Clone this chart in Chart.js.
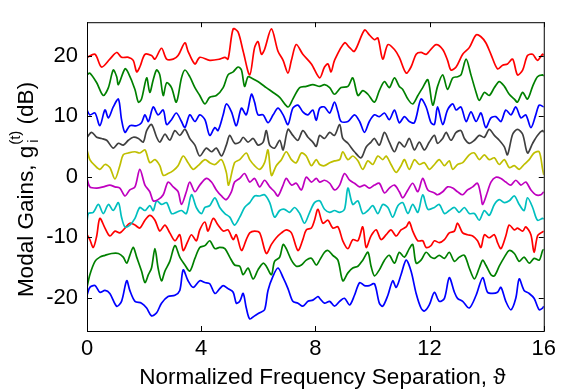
<!DOCTYPE html>
<html>
<head>
<meta charset="utf-8">
<script src="https://cdn.jsdelivr.net/npm/chart.js@4.4.1/dist/chart.umd.min.js"></script>
<style>
  html, body { margin: 0; padding: 0; background: #fff; }
  canvas { display: block; }
</style>
</head>
<body>
<canvas id="gains" width="561" height="390"></canvas>
<script>
// values: [theta, gain dB]
const xTicks = [0, 4, 8, 12, 16];
const yTicks = [-20, -10, 0, 10, 20];

const red1 = [[0,19.7],[0.28,20.2],[0.51,18.1],[0.8,19.4],[1.04,20.5],[1.21,19.7],[1.45,19.7],[1.62,19.2],[1.74,17.3],[1.85,18.1],[2.03,20.2],[2.26,20.0],[2.38,19.4],[2.61,21.2],[2.79,19.4],[3.02,19.4],[3.19,20.0],[3.43,22.1],[3.54,20.7],[3.78,18.6],[3.95,19.7],[4.3,19.2],[4.65,19.4],[4.83,19.7],[4.94,19.4],[5.12,24.4],[5.29,23.9],[5.47,20.7],[5.7,16.8],[5.87,21.3],[5.99,22.3],[6.11,20.2],[6.22,21.0],[6.46,24.4],[6.69,20.7],[6.87,19.2],[7.04,17.1],[7.16,19.2],[7.33,21.8],[7.56,20.2],[7.86,18.6],[8.15,16.3],[8.32,18.1],[8.44,18.6],[8.55,17.3],[8.67,19.2],[9.02,22.1],[9.2,21.3],[9.37,20.7],[9.72,24.2],[9.89,23.4],[10.07,22.6],[10.19,22.9],[10.36,19.4],[10.54,21.8],[10.77,21.0],[10.94,19.7],[11.18,17.1],[11.35,18.1],[11.53,20.2],[11.7,20.5],[11.88,20.2],[11.99,20.7],[12.23,21.8],[12.46,21.0],[12.63,19.2],[12.75,17.6],[12.93,18.1],[13.16,20.2],[13.39,21.3],[13.63,23.4],[13.8,23.1],[13.97,22.1],[14.15,20.2],[14.38,17.8],[14.56,18.4],[14.73,18.6],[14.91,19.4],[15.08,16.8],[15.26,17.6],[15.43,20.0],[15.61,20.2],[15.78,19.2],[15.96,20.2],[16,20.0]];

const green1 = [[0,16.8],[0.1,17.1],[0.34,15.5],[0.57,13.4],[0.75,14.7],[0.92,17.6],[1.04,16.5],[1.1,15.2],[1.33,17.8],[1.45,17.1],[1.68,14.4],[1.8,12.3],[1.91,12.8],[2.09,16.3],[2.2,13.9],[2.32,16.0],[2.44,17.6],[2.55,16.8],[2.67,13.4],[2.79,15.5],[2.96,14.7],[3.13,12.3],[3.31,16.3],[3.43,17.6],[3.6,16.5],[3.78,14.7],[3.95,13.4],[4.13,12.0],[4.3,13.1],[4.53,13.4],[4.77,14.7],[4.94,16.8],[5.12,17.3],[5.29,18.1],[5.41,17.6],[5.52,14.9],[5.64,16.5],[5.76,16.3],[5.87,16.0],[6.05,15.5],[6.28,14.7],[6.52,13.9],[6.75,13.1],[7.04,11.5],[7.21,12.8],[7.45,14.7],[7.68,14.9],[7.91,15.2],[8.15,14.9],[8.32,15.2],[8.5,14.7],[8.67,13.6],[8.9,14.7],[9.14,14.9],[9.31,16.3],[9.49,13.4],[9.66,14.2],[9.84,13.6],[10.07,12.3],[10.24,14.2],[10.42,15.7],[10.59,14.7],[10.77,16.3],[10.94,14.9],[11.06,14.4],[11.24,12.8],[11.41,12.0],[11.59,13.4],[11.76,14.7],[11.94,16.0],[12.11,11.8],[12.28,14.9],[12.46,16.8],[12.63,14.4],[12.81,16.3],[12.98,16.5],[13.1,16.8],[13.28,19.4],[13.45,16.8],[13.63,13.9],[13.74,12.6],[13.92,13.9],[14.09,13.4],[14.27,14.7],[14.44,15.7],[14.62,14.9],[14.79,13.6],[14.97,12.8],[15.08,12.3],[15.26,13.9],[15.43,12.8],[15.61,14.9],[15.78,16.5],[15.96,16.8],[16,16.6]];

const blue1 = [[0,11.0],[0.1,10.2],[0.28,10.5],[0.45,8.4],[0.63,11.0],[0.75,9.7],[0.92,11.5],[1.1,12.8],[1.21,9.4],[1.33,7.3],[1.5,8.4],[1.74,8.4],[1.91,8.9],[2.03,10.2],[2.15,9.1],[2.32,11.5],[2.49,10.2],[2.67,11.0],[2.79,8.6],[2.96,9.4],[3.13,10.5],[3.31,9.1],[3.43,8.1],[3.6,10.2],[3.78,9.1],[3.95,10.2],[4.13,9.4],[4.3,6.8],[4.48,8.1],[4.59,7.6],[4.77,10.2],[4.88,12.0],[5.06,10.7],[5.23,8.4],[5.41,11.3],[5.58,10.2],[5.76,13.6],[5.87,12.3],[5.99,10.2],[6.17,10.2],[6.34,8.9],[6.52,10.2],[6.69,11.3],[6.87,10.2],[7.04,8.6],[7.21,11.3],[7.39,11.8],[7.56,10.7],[7.74,10.2],[7.91,11.0],[8.03,9.3],[8.15,11.3],[8.32,11.5],[8.5,10.5],[8.67,12.3],[8.79,10.7],[8.9,9.1],[9.14,9.1],[9.37,10.2],[9.55,9.1],[9.72,7.3],[9.89,9.1],[10.07,10.2],[10.24,9.9],[10.42,10.5],[10.59,9.4],[10.77,11.0],[10.94,8.9],[11.12,9.9],[11.29,9.1],[11.47,8.9],[11.7,12.8],[11.88,11.5],[12.05,8.9],[12.17,8.6],[12.28,11.5],[12.46,8.6],[12.63,11.0],[12.81,12.0],[12.93,11.0],[13.1,11.5],[13.28,9.1],[13.45,10.7],[13.63,9.1],[13.8,10.5],[13.97,8.1],[14.15,9.7],[14.32,9.9],[14.5,9.1],[14.67,11.0],[14.85,10.2],[15.02,11.5],[15.2,9.7],[15.37,10.2],[15.55,8.1],[15.72,10.2],[15.84,11.8],[16,11.5]];

const gray1 = [[0,6.5],[0.16,7.3],[0.34,6.5],[0.51,6.3],[0.69,6.0],[0.92,4.7],[1.1,5.5],[1.27,5.2],[1.45,6.0],[1.62,6.5],[1.8,6.3],[1.97,5.7],[2.09,7.6],[2.26,8.6],[2.44,6.5],[2.55,5.7],[2.73,7.0],[2.9,6.0],[3.08,7.6],[3.25,6.8],[3.43,7.8],[3.6,6.3],[3.78,5.2],[3.95,3.4],[4.18,4.7],[4.36,4.1],[4.53,4.7],[4.71,3.4],[4.88,5.2],[5.0,6.8],[5.17,5.5],[5.35,5.7],[5.47,6.5],[5.64,5.7],[5.82,6.3],[5.99,5.2],[6.17,5.7],[6.28,7.6],[6.4,5.2],[6.57,4.7],[6.75,6.0],[6.87,4.4],[7.04,7.8],[7.21,6.8],[7.39,6.0],[7.56,7.6],[7.74,6.5],[7.91,5.7],[8.03,5.0],[8.15,6.8],[8.32,6.3],[8.5,7.3],[8.67,6.8],[8.85,8.6],[8.96,6.3],[9.14,5.5],[9.37,4.1],[9.6,3.1],[9.78,4.9],[9.95,5.7],[10.07,6.3],[10.24,5.2],[10.42,7.3],[10.59,5.7],[10.77,4.1],[10.94,5.7],[11.12,4.9],[11.29,6.3],[11.47,4.4],[11.64,5.7],[11.82,4.4],[11.99,5.7],[12.17,6.8],[12.28,5.5],[12.46,6.3],[12.58,7.3],[12.75,6.0],[12.93,7.3],[13.1,7.6],[13.22,6.3],[13.39,5.5],[13.57,6.0],[13.74,6.8],[13.92,6.5],[14.09,7.8],[14.27,6.8],[14.44,6.0],[14.62,4.9],[14.73,3.6],[14.91,7.0],[15.08,7.8],[15.26,7.0],[15.43,3.9],[15.61,5.5],[15.78,6.8],[15.96,7.6],[16,7.3]];

const yellow1 = [[0,4.4],[0.1,2.8],[0.28,1.8],[0.45,1.2],[0.63,2.0],[0.8,1.5],[0.98,-0.4],[1.15,1.8],[1.27,3.6],[1.45,3.9],[1.68,4.1],[1.85,3.9],[2.03,4.4],[2.2,2.3],[2.38,2.8],[2.55,1.8],[2.67,0.2],[2.84,0.5],[3.02,1.0],[3.19,1.8],[3.37,3.4],[3.54,2.3],[3.72,1.2],[3.89,1.8],[4.13,2.8],[4.3,2.3],[4.48,2.0],[4.71,2.8],[4.88,0.7],[4.96,-1.4],[5.17,2.3],[5.35,2.8],[5.58,3.9],[5.7,2.8],[5.87,1.8],[6.05,1.2],[6.22,2.3],[6.34,4.4],[6.46,0.2],[6.63,1.8],[6.81,2.8],[6.98,4.1],[7.16,2.8],[7.33,2.3],[7.51,3.9],[7.68,3.4],[7.86,1.8],[8.03,2.8],[8.15,2.0],[8.32,1.8],[8.5,2.3],[8.67,2.6],[8.85,2.8],[8.96,4.1],[9.14,2.8],[9.31,3.4],[9.49,2.6],[9.66,1.2],[9.84,2.6],[10.01,2.0],[10.19,3.4],[10.36,2.8],[10.48,3.4],[10.65,2.0],[10.83,0.7],[11.0,1.8],[11.12,2.8],[11.29,1.2],[11.47,2.8],[11.64,2.0],[11.82,2.3],[11.99,1.2],[12.17,2.0],[12.34,2.8],[12.52,1.8],[12.69,2.6],[12.81,1.2],[12.98,2.0],[13.16,2.3],[13.39,3.6],[13.57,3.9],[13.74,2.8],[13.92,3.6],[14.09,2.8],[14.27,3.1],[14.44,2.0],[14.62,2.8],[14.79,1.5],[14.97,1.8],[15.14,1.2],[15.31,2.0],[15.49,2.8],[15.66,3.9],[15.84,4.1],[15.96,1.2],[16,0.3]];

const magenta1 = [[0,-0.3],[0.1,-1.7],[0.34,-1.9],[0.57,-1.7],[0.8,-1.4],[0.98,-1.7],[1.15,-1.9],[1.33,-3.2],[1.5,-2.2],[1.68,-1.7],[1.85,1.2],[2.03,-1.4],[2.2,-2.5],[2.32,-4.0],[2.49,-3.8],[2.67,-3.0],[2.84,-0.9],[3.02,-1.7],[3.19,-2.5],[3.31,-4.6],[3.48,-2.5],[3.6,-0.9],[3.78,-2.5],[3.95,-1.4],[4.18,-0.3],[4.36,-0.9],[4.53,-2.2],[4.71,-3.2],[4.88,-3.8],[5.06,-2.5],[5.17,-0.9],[5.35,-0.3],[5.52,0.5],[5.7,-0.9],[5.87,-0.3],[6.05,-1.7],[6.22,-0.6],[6.4,-1.7],[6.57,-2.5],[6.69,-3.2],[6.87,-1.4],[6.98,-0.3],[7.16,-1.4],[7.33,-1.1],[7.51,-2.2],[7.68,-0.1],[7.86,-0.9],[8.03,-0.3],[8.15,-0.9],[8.32,-0.6],[8.5,-1.1],[8.67,-2.2],[8.85,-1.4],[9.02,0.5],[9.2,-0.6],[9.37,-1.1],[9.55,-1.7],[9.72,-1.4],[9.89,-1.9],[10.07,-1.4],[10.24,-1.1],[10.42,-2.7],[10.59,-1.9],[10.77,-1.4],[10.94,-2.5],[11.06,-3.5],[11.24,-2.2],[11.41,-1.1],[11.59,-2.5],[11.76,-0.3],[11.94,-2.2],[12.17,-2.7],[12.28,-3.0],[12.46,-2.5],[12.63,-1.7],[12.81,-1.9],[12.98,-2.5],[13.16,-3.0],[13.33,-2.2],[13.51,-1.7],[13.68,-1.1],[13.8,-3.2],[13.86,-4.6],[14.03,-2.5],[14.15,-0.9],[14.32,-0.1],[14.5,-0.3],[14.67,-0.9],[14.85,-1.4],[15.02,-0.6],[15.2,-1.4],[15.37,-0.9],[15.55,-2.2],[15.72,-3.0],[15.9,-3.0],[16,-2.5]];

const cyan1 = [[0,-7.5],[0.05,-6.1],[0.22,-5.9],[0.4,-4.6],[0.57,-6.1],[0.75,-4.6],[0.92,-5.6],[1.1,-4.3],[1.21,-6.7],[1.33,-8.3],[1.5,-8.0],[1.68,-6.9],[1.85,-5.1],[2.03,-5.6],[2.2,-4.8],[2.32,-5.6],[2.44,-4.0],[2.61,-4.6],[2.79,-4.3],[2.96,-6.1],[3.13,-5.9],[3.31,-5.6],[3.48,-6.1],[3.66,-3.0],[3.83,-5.1],[4.01,-6.1],[4.13,-5.1],[4.3,-4.8],[4.48,-3.5],[4.65,-5.1],[4.83,-6.1],[5.0,-6.7],[5.17,-8.0],[5.35,-6.7],[5.52,-5.1],[5.7,-4.3],[5.87,-3.2],[6.05,-3.2],[6.22,-3.0],[6.4,-4.3],[6.57,-6.7],[6.75,-5.6],[6.92,-5.4],[7.1,-5.9],[7.27,-5.1],[7.45,-6.1],[7.62,-7.7],[7.8,-5.9],[7.97,-4.3],[8.15,-4.0],[8.32,-5.4],[8.5,-5.9],[8.67,-5.6],[8.85,-5.9],[9.02,-5.4],[9.14,-1.9],[9.31,-4.6],[9.49,-4.0],[9.66,-6.1],[9.84,-5.6],[10.01,-4.8],[10.19,-6.1],[10.36,-4.6],[10.54,-5.1],[10.71,-6.7],[10.89,-4.8],[11.06,-4.3],[11.24,-6.1],[11.41,-4.6],[11.59,-5.9],[11.76,-3.0],[11.94,-5.4],[12.17,-5.1],[12.34,-4.6],[12.52,-6.1],[12.69,-5.6],[12.87,-5.1],[13.04,-5.9],[13.22,-5.1],[13.39,-6.1],[13.57,-6.1],[13.74,-7.2],[13.92,-5.6],[14.09,-6.4],[14.27,-4.6],[14.44,-3.8],[14.62,-4.3],[14.79,-4.0],[14.97,-3.2],[15.14,-4.6],[15.31,-5.6],[15.43,-3.5],[15.61,-5.1],[15.78,-7.2],[15.96,-6.9],[16,-7.0]];

const red2 = [[0,-9.6],[0.1,-10.4],[0.22,-11.7],[0.34,-9.8],[0.45,-6.9],[0.63,-8.5],[0.8,-9.8],[0.98,-9.0],[1.15,-9.3],[1.33,-8.5],[1.5,-7.7],[1.68,-8.0],[1.85,-8.5],[2.03,-7.2],[2.2,-6.4],[2.38,-7.2],[2.55,-9.0],[2.73,-8.0],[2.9,-9.3],[3.08,-10.6],[3.25,-9.6],[3.37,-12.2],[3.54,-10.6],[3.66,-9.6],[3.83,-10.6],[3.95,-8.8],[4.13,-7.5],[4.24,-9.0],[4.42,-6.9],[4.59,-8.0],[4.77,-9.0],[4.94,-8.8],[5.12,-10.4],[5.23,-9.6],[5.41,-12.2],[5.58,-10.4],[5.7,-9.3],[5.87,-9.0],[6.05,-9.3],[6.28,-12.7],[6.46,-11.2],[6.63,-10.1],[6.81,-9.3],[6.98,-8.8],[7.16,-9.3],[7.39,-12.2],[7.56,-10.4],[7.68,-8.8],[7.86,-8.5],[7.97,-7.2],[8.09,-5.4],[8.26,-7.7],[8.44,-7.2],[8.61,-8.5],[8.79,-8.3],[8.96,-10.6],[9.14,-11.9],[9.31,-10.4],[9.49,-10.6],[9.66,-8.3],[9.78,-11.7],[9.95,-9.8],[10.13,-8.8],[10.3,-10.4],[10.48,-9.6],[10.65,-8.8],[10.83,-9.8],[11.0,-8.8],[11.18,-8.3],[11.29,-7.5],[11.41,-9.0],[11.59,-10.6],[11.76,-10.6],[11.88,-11.7],[12.05,-11.4],[12.17,-10.6],[12.34,-10.9],[12.52,-10.4],[12.69,-9.3],[12.87,-9.0],[12.98,-7.7],[13.16,-9.3],[13.33,-9.6],[13.51,-9.8],[13.68,-10.6],[13.8,-11.7],[13.92,-9.6],[14.09,-10.1],[14.27,-9.6],[14.38,-10.9],[14.5,-11.9],[14.67,-9.8],[14.79,-8.0],[14.97,-8.8],[15.08,-8.5],[15.26,-9.0],[15.37,-8.3],[15.55,-9.6],[15.66,-12.5],[15.78,-9.8],[15.9,-9.3],[16,-9.0]];

const green2 = [[0,-18.3],[0.1,-16.2],[0.28,-14.0],[0.45,-13.3],[0.63,-13.0],[0.86,-12.7],[1.1,-12.7],[1.27,-13.3],[1.39,-14.3],[1.5,-13.0],[1.62,-11.7],[1.74,-13.3],[1.91,-15.6],[2.03,-17.5],[2.15,-16.2],[2.26,-15.1],[2.38,-11.9],[2.49,-15.1],[2.61,-17.2],[2.73,-15.6],[2.9,-14.0],[3.08,-11.4],[3.25,-13.3],[3.43,-14.6],[3.6,-15.6],[3.78,-13.5],[3.95,-11.7],[4.13,-11.4],[4.3,-10.6],[4.48,-11.9],[4.65,-11.7],[4.83,-11.9],[5.0,-13.3],[5.17,-14.6],[5.35,-14.8],[5.47,-16.2],[5.64,-15.1],[5.82,-16.9],[5.99,-15.4],[6.17,-14.3],[6.28,-14.8],[6.46,-16.2],[6.57,-14.0],[6.75,-13.3],[6.87,-11.2],[6.98,-11.9],[7.16,-13.8],[7.33,-14.8],[7.51,-14.6],[7.68,-13.8],[7.86,-13.5],[8.03,-14.6],[8.15,-13.8],[8.32,-12.5],[8.44,-12.2],[8.61,-13.0],[8.79,-13.8],[8.96,-17.2],[9.14,-15.9],[9.31,-15.1],[9.49,-14.8],[9.66,-13.8],[9.84,-12.5],[9.95,-14.8],[10.07,-16.4],[10.24,-15.4],[10.42,-13.8],[10.59,-13.0],[10.77,-14.3],[10.94,-12.5],[11.12,-13.3],[11.29,-11.9],[11.41,-11.2],[11.53,-14.3],[11.7,-13.8],[11.88,-12.5],[12.05,-13.3],[12.17,-13.5],[12.34,-13.0],[12.52,-13.5],[12.69,-12.5],[12.87,-14.0],[13.04,-13.3],[13.22,-13.0],[13.39,-15.1],[13.57,-16.9],[13.74,-15.1],[13.86,-13.8],[13.97,-14.6],[14.15,-16.2],[14.27,-16.4],[14.44,-14.8],[14.62,-13.3],[14.79,-12.2],[14.97,-12.7],[15.14,-14.0],[15.31,-13.3],[15.49,-14.3],[15.66,-13.5],[15.84,-13.8],[15.96,-12.2],[16,-12.0]];

const blue2 = [[0,-19.6],[0.1,-18.3],[0.28,-18.0],[0.45,-19.1],[0.63,-18.8],[0.8,-19.3],[1.04,-21.4],[1.21,-20.6],[1.39,-17.2],[1.5,-18.8],[1.68,-20.6],[1.91,-20.9],[2.09,-21.7],[2.26,-23.0],[2.44,-22.5],[2.61,-20.9],[2.84,-19.8],[3.08,-19.6],[3.25,-18.8],[3.37,-15.4],[3.54,-17.2],[3.72,-18.3],[3.95,-17.2],[4.13,-17.5],[4.3,-17.7],[4.48,-19.3],[4.65,-18.5],[4.77,-18.0],[4.94,-18.5],[5.12,-19.1],[5.23,-20.9],[5.35,-20.6],[5.47,-19.3],[5.58,-21.7],[5.7,-23.5],[5.87,-23.0],[6.05,-22.5],[6.22,-22.0],[6.34,-18.8],[6.52,-16.4],[6.69,-15.1],[6.87,-16.7],[7.04,-18.5],[7.21,-20.6],[7.39,-20.9],[7.56,-21.4],[7.74,-20.6],[7.91,-20.4],[8.09,-19.8],[8.15,-20.1],[8.32,-20.9],[8.5,-20.6],[8.67,-21.4],[8.85,-20.6],[9.02,-20.1],[9.2,-21.2],[9.37,-19.6],[9.55,-17.5],[9.72,-18.0],[9.89,-18.0],[10.07,-17.7],[10.24,-20.9],[10.36,-21.4],[10.54,-19.6],[10.71,-17.2],[10.83,-18.3],[11.0,-16.2],[11.18,-13.8],[11.35,-15.6],[11.53,-19.3],[11.7,-21.7],[11.82,-22.2],[11.99,-21.2],[12.17,-19.1],[12.34,-20.6],[12.52,-20.1],[12.69,-16.7],[12.87,-19.1],[12.98,-20.1],[13.16,-20.6],[13.39,-21.7],[13.63,-19.6],[13.86,-16.7],[14.03,-19.1],[14.21,-19.3],[14.38,-19.1],[14.5,-18.3],[14.67,-20.6],[14.85,-22.0],[15.02,-20.1],[15.14,-16.9],[15.31,-18.8],[15.49,-19.3],[15.66,-20.1],[15.84,-22.0],[15.96,-21.7],[16,-21.4]];

const seriesList = [red1, green1, blue1, gray1, yellow1, magenta1, cyan1, red2, green2, blue2];
const seriesColors = ['#ff0000', '#008000', '#0000ff', '#404040', '#bfbf00', '#bf00bf', '#00bfbf', '#ff0000', '#008000', '#0000ff'];

const FONT = "'Liberation Sans', Arial, sans-serif";

// frame, inward ticks and axis titles (matlab look)
const framePlugin = {
    id: 'frame',
    afterDraw(chart) {
        const { ctx, chartArea: a, scales } = chart;
        ctx.save();
        ctx.strokeStyle = '#000';
        ctx.lineWidth = 1;
        ctx.strokeRect(a.left + 0.5, a.top + 0.5, a.right - a.left, a.bottom - a.top);
        ctx.beginPath();
        xTicks.forEach(v => {
            const px = Math.round(scales.x.getPixelForValue(v)) + 0.5;
            ctx.moveTo(px, a.bottom); ctx.lineTo(px, a.bottom - 5);
            ctx.moveTo(px, a.top); ctx.lineTo(px, a.top + 5);
        });
        yTicks.forEach(v => {
            const py = Math.round(scales.y.getPixelForValue(v)) + 0.5;
            ctx.moveTo(a.left, py); ctx.lineTo(a.left + 5, py);
            ctx.moveTo(a.right, py); ctx.lineTo(a.right - 5, py);
        });
        ctx.stroke();

        ctx.fillStyle = '#000';
        ctx.textBaseline = 'middle';
        ctx.textAlign = 'center';
        ctx.font = '22.5px ' + FONT;
        ctx.fillText('Normalized Frequency Separation, \u03d1', (a.left + a.right) / 2 + 7, 378);

        // y title with stacked sub/superscript
        ctx.translate(27, 190);
        ctx.rotate(-Math.PI / 2);
        ctx.textAlign = 'left';
        const main = 'Modal Gains, g';
        const tail = ' (dB)';
        ctx.font = '22.5px ' + FONT;
        const w1 = ctx.measureText(main).width;
        const w3 = ctx.measureText(tail).width;
        ctx.font = '15px ' + FONT;
        const w2 = Math.max(ctx.measureText('(t)').width, ctx.measureText('i').width);
        let x0 = -(w1 + w2 + w3) / 2;
        ctx.font = '22.5px ' + FONT;
        ctx.fillText(main, x0, 0);
        ctx.font = '15px ' + FONT;
        ctx.fillText('(t)', x0 + w1 + 1, -11);
        ctx.fillText('i', x0 + w1 + 3, 7);
        ctx.font = '22.5px ' + FONT;
        ctx.fillText(tail, x0 + w1 + w2 + 1, 0);
        ctx.restore();
    }
};

new Chart(document.getElementById('gains'), {
    type: 'line',
    data: {
        datasets: seriesList.map((s, i) => ({
            data: s.map(p => ({ x: p[0], y: p[1] })),
            borderColor: seriesColors[i],
            borderWidth: 1.7,
            pointRadius: 0,
            tension: 0.3,
            fill: false
        }))
    },
    options: {
        responsive: false,
        animation: false,
        devicePixelRatio: 1,
        layout: { padding: { top: 8, right: 16, left: 0, bottom: 0 } },
        plugins: { legend: { display: false }, tooltip: { enabled: false } },
        scales: {
            x: {
                type: 'linear',
                min: 0,
                max: 16,
                afterBuildTicks: s => { s.ticks = xTicks.map(v => ({ value: v })); },
                afterFit: s => { s.height = 59; },
                grid: { display: false, drawTicks: false },
                border: { display: false },
                ticks: { color: '#000', padding: 5, font: { size: 22, family: FONT }, maxRotation: 0 }
            },
            y: {
                type: 'linear',
                min: -25.5,
                max: 25.5,
                afterBuildTicks: s => { s.ticks = yTicks.map(v => ({ value: v })); },
                afterFit: s => { s.width = 87; },
                grid: { display: false, drawTicks: false },
                border: { display: false },
                ticks: { color: '#000', padding: 9, font: { size: 22, family: FONT } }
            }
        }
    },
    plugins: [framePlugin]
});
</script>
</body>
</html>
